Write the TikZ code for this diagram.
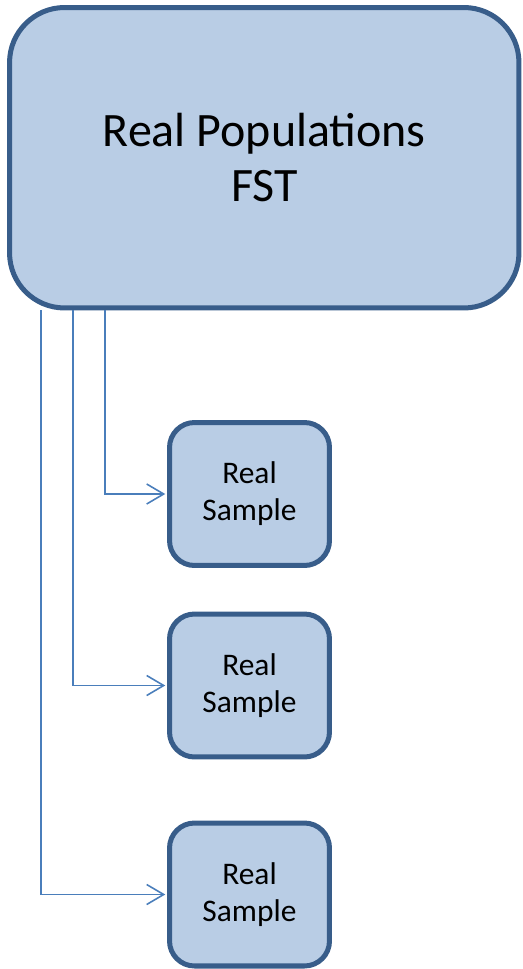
\documentclass[tikz,border=0pt]{standalone}
\usepackage{fontspec}
\setmainfont{Carlito}
\usetikzlibrary{arrows.meta}
\definecolor{boxfill}{HTML}{B9CDE5}
\definecolor{boxline}{HTML}{385D8A}
\definecolor{arrline}{HTML}{4A7EBB}
\begin{document}
\begin{tikzpicture}[x=0.02cm, y=-0.02cm,
    block/.style={draw=boxline, fill=boxfill, line width=2.85pt, align=center},
    bigblock/.style={block, rounded corners=1.1cm, minimum width=10.19cm, minimum height=6.01cm, font=\fontsize{27.3}{31.3}\selectfont},
    sample/.style={block, rounded corners=0.5cm, minimum width=3.2cm, minimum height=2.86cm, font=\fontsize{17.9}{21.1}\selectfont},
    arr/.style={draw=arrline, line width=0.9pt, -{Straight Barb[length=9.7pt, width=11.4pt, line width=0.9pt]}, shorten >=1pt}]
    \useasboundingbox (0,0) rectangle (522,969);
    \node[bigblock] (pop) at (264.25,157.75) {Real Populations\\FST};
    \node[sample] (s1) at (249.5,494) {Real\\Sample};
    \node[sample] (s2) at (249.5,685.5) {Real\\Sample};
    \node[sample] (s3) at (249.5,894.5) {Real\\Sample};
    \draw[arr] ([xshift=1.96cm]pop.south west) |- (s1.west);
    \draw[arr] ([xshift=1.32cm]pop.south west) |- (s2.west);
    \draw[arr] ([xshift=0.68cm]pop.south west) |- (s3.west);
\end{tikzpicture}
\end{document}
